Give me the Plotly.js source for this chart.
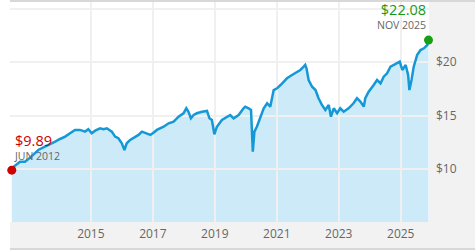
<!DOCTYPE html>
<html>
<head>
<meta charset="utf-8">
<script src="https://cdn.plot.ly/plotly-3.0.1.min.js"></script>
<style>
html,body{margin:0;padding:0;background:#fff;}
#chart{width:475px;height:250px;}
</style>
</head>
<body>
<div id="chart"></div>
<script>
const dates = ['2012-06-13','2012-07-08','2012-09-18','2012-11-16','2013-01-15','2013-04-22','2013-07-09','2013-09-08','2013-11-06',
'2014-01-03','2014-03-04','2014-05-01','2014-06-28','2014-08-26','2014-10-25','2014-12-02',
'2015-01-11','2015-02-21','2015-04-20','2015-05-30','2015-07-09','2015-09-05','2015-10-14','2015-11-21',
'2016-01-01','2016-02-01','2016-02-28','2016-04-08','2016-06-06','2016-07-16','2016-08-25','2016-10-23','2016-12-02',
'2017-01-08','2017-02-17','2017-05-08','2017-07-06','2017-09-03','2017-10-31','2017-12-28',
'2018-01-30','2018-02-24','2018-03-25','2018-04-27','2018-06-03','2018-08-04','2018-10-01','2018-10-30','2018-11-28','2018-12-27',
'2019-01-26','2019-03-26','2019-05-05','2019-07-02','2019-08-11','2019-10-09','2019-12-06','2019-12-26',
'2020-02-03','2020-03-03','2020-03-24','2020-04-12','2020-05-11','2020-06-21','2020-07-31','2020-09-09','2020-10-16','2020-11-25',
'2021-01-04','2021-02-14','2021-03-24','2021-05-01','2021-06-29','2021-08-08','2021-10-05','2021-11-14','2021-12-02','2021-12-17',
'2022-01-11','2022-02-21','2022-04-02','2022-05-08','2022-06-17','2022-07-27','2022-09-05','2022-10-01','2022-11-03','2022-12-13',
'2023-01-19','2023-02-28','2023-04-27','2023-06-24','2023-08-04','2023-09-13','2023-10-23','2023-11-10','2023-12-20',
'2024-02-17','2024-03-28','2024-05-08','2024-06-14','2024-07-24','2024-09-02','2024-10-12','2024-11-21','2024-12-20',
'2025-01-19','2025-02-28','2025-03-29','2025-04-13','2025-05-08','2025-06-03','2025-07-13','2025-08-22','2025-10-01','2025-11-10','2025-11-24'];

const values = [9.89,10.22,10.68,10.68,11.06,11.78,12.09,12.31,12.56,
12.81,13.03,13.35,13.66,13.66,13.50,13.72,
13.35,13.59,13.81,13.72,13.81,13.50,13.03,12.88,
12.41,11.78,12.41,12.72,13.03,13.19,13.50,13.35,13.19,
13.40,13.66,13.96,14.28,14.43,14.90,15.22,
15.69,15.37,14.75,15.06,15.22,15.37,15.44,14.75,14.59,13.25,
13.96,14.59,14.75,15.06,14.75,15.06,15.69,15.84,
15.69,15.53,11.62,13.50,13.96,14.90,15.69,16.16,15.84,17.40,
17.56,17.87,18.18,18.50,18.81,18.97,19.28,19.59,19.75,19.44,
18.34,17.71,17.40,16.63,16.00,15.53,16.00,14.90,15.69,15.22,
15.69,15.37,15.69,16.16,16.63,16.31,15.84,16.63,17.24,
17.87,18.34,18.03,18.65,18.97,19.59,19.75,19.91,20.06,
19.28,19.75,18.81,17.40,18.34,19.59,20.68,21.15,21.31,21.62,22.08];

const xTickVals = ['2015-01-01','2017-01-01','2019-01-01','2021-01-01','2023-01-01','2025-01-01'];
const xTickText = ['2015','2017','2019','2021','2023','2025'];
const yTickVals = [10, 15, 20, 25];
const yTickText = ['$10', '$15', '$20', ''];
const startLabel = '$9.89';
const startDate = 'JUN 2012';
const endLabel = '$22.08';
const endDate = 'NOV 2025';

const xRange = ['2012-05-23', '2025-11-30'];
const yRange = [5.03, 25.65];

const n = dates.length;
const font = 'Open Sans, Noto Sans, sans-serif';

const traces = [
  { x: dates, y: values, xaxis: 'x', yaxis: 'y', type: 'scatter', mode: 'lines',
    fill: 'tozeroy', fillcolor: '#cdeaf8', line: {width: 0, color: 'rgba(0,0,0,0)'}, hoverinfo: 'skip' },
  { x: dates, y: values, xaxis: 'x2', yaxis: 'y2', type: 'scatter', mode: 'lines',
    line: {color: '#1598d6', width: 2.5}, hoverinfo: 'skip' },
  { x: [dates[0], dates[n-1]], y: [values[0], values[n-1]], xaxis: 'x2', yaxis: 'y2',
    type: 'scatter', mode: 'markers', cliponaxis: false,
    marker: {size: 9, color: ['#d00000', '#16a016']}, hoverinfo: 'skip' }
];

const layout = {
  width: 475, height: 250,
  margin: {l: 10, r: 46, t: 2, b: 28},
  paper_bgcolor: '#f2f2f2',
  plot_bgcolor: 'rgba(0,0,0,0)',
  showlegend: false,
  font: {family: font, size: 12, color: '#666'},
  xaxis: {range: xRange, type: 'date', visible: false, fixedrange: true},
  yaxis: {range: yRange, visible: false, fixedrange: true},
  xaxis2: {range: xRange, type: 'date', anchor: 'y2', domain: [0, 1],
    tickvals: xTickVals, ticktext: xTickText,
    showgrid: true, gridcolor: '#f0f0f0', gridwidth: 2,
    zeroline: false, showline: false, ticks: '', ticklabelstandoff: 3,
    tickfont: {family: font, size: 12, color: '#666'}},
  yaxis2: {range: yRange, anchor: 'x2', side: 'right', domain: [0, 1],
    tickvals: yTickVals, ticktext: yTickText,
    showgrid: true, gridcolor: '#f0f0f0', gridwidth: 2,
    zeroline: false, showline: false, ticks: '', ticklabelstandoff: 6,
    tickfont: {family: font, size: 12, color: '#666'}},
  shapes: [
    {type: 'rect', xref: 'paper', yref: 'paper', x0: -0.03, x1: 0, y0: -0.2, y1: 1.1, fillcolor: '#ffffff', line: {width: 0}, layer: 'below'},
    {type: 'rect', xref: 'paper', yref: 'paper', x0: 0, x1: 1, y0: 0, y1: 1, fillcolor: '#ffffff', line: {width: 0}, layer: 'below'},
    {type: 'rect', xref: 'paper', yref: 'paper', x0: 0, x1: 1.12, y0: 1, y1: 1.0091, fillcolor: '#d8d8d8', line: {width: 0}, layer: 'below'},
    {type: 'rect', xref: 'paper', yref: 'paper', x0: 0, x1: 1.12, y0: -0.1273, y1: -0.1182, fillcolor: '#d8d8d8', line: {width: 0}, layer: 'below'}
  ],
  annotations: [
    {xref: 'x2', yref: 'y2', x: dates[0], y: values[0], showarrow: false,
     text: '<span style="font-size:14.5px;color:#cc0000">' + startLabel + '</span><br>' + startDate,
     align: 'left', xanchor: 'left', yanchor: 'middle', xshift: 1, yshift: 23, borderpad: 0,
     font: {family: font, size: 10.5, color: '#666'}},
    {xref: 'x2', yref: 'y2', x: dates[n-1], y: values[n-1], showarrow: false,
     text: '<span style="font-size:14.5px;color:#169a16">' + endLabel + '</span><br>' + endDate,
     align: 'right', xanchor: 'right', yanchor: 'middle', xshift: -1, yshift: 24.5, borderpad: 0,
     font: {family: font, size: 10.5, color: '#666'}}
  ]
};

Plotly.newPlot('chart', traces, layout, {staticPlot: true, displayModeBar: false});
</script>
</body>
</html>
